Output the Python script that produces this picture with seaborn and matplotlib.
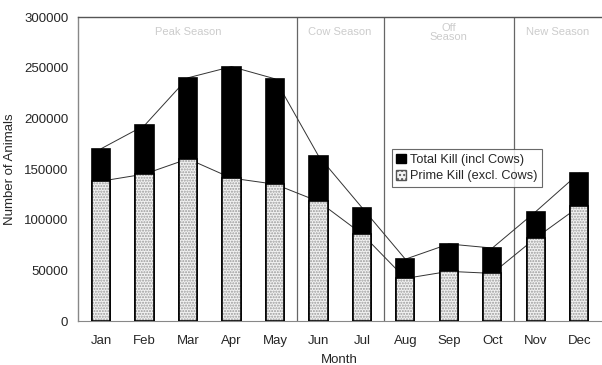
import matplotlib
matplotlib.use("Agg")
import matplotlib.pyplot as plt
import numpy as np
import pandas as pd
import seaborn as sns
from matplotlib.patches import Patch

months = ["Jan", "Feb", "Mar", "Apr", "May", "Jun", "Jul", "Aug", "Sep", "Oct", "Nov", "Dec"]
total_kill = [170000, 193000, 240000, 251000, 239000, 163000, 112000, 61000, 76000, 72000, 108000, 146000]
prime_kill = [138000, 145000, 160000, 141000, 135000, 118000, 86000, 42000, 49000, 47000, 82000, 113000]
season_labels = ["Peak Season", "Cow Season", "Off\nSeason", "New Season"]
season_edges = [-0.5, 4.5, 6.5, 9.5, 11.5]

df = pd.DataFrame({"Month": months, "Total": total_kill, "Prime": prime_kill})

sns.set_style("white")
plt.rcParams["font.family"] = ["Liberation Sans", "DejaVu Sans"]

fig = plt.figure(figsize=(6.02, 3.65), dpi=100)
ax = fig.add_axes([78 / 602, 1 - 321 / 365, 523 / 602, 304 / 365])

bar_w = 0.42
# total kill in black, prime kill drawn over it from zero
sns.barplot(data=df, x="Month", y="Total", color="black", width=bar_w,
            saturation=1, edgecolor="black", linewidth=1.2, ax=ax, zorder=3)
n_total = len(ax.patches)
sns.barplot(data=df, x="Month", y="Prime", color="#f2f2f2", width=bar_w,
            saturation=1, edgecolor="#9a9a9a", linewidth=0, ax=ax, zorder=4)
for p in ax.patches[n_total:]:
    p.set_hatch("......")
sns.barplot(data=df, x="Month", y="Prime", fill=False, width=bar_w,
            edgecolor="black", linewidth=1.2, ax=ax, zorder=5)

# trend lines joining the bar tops
x = np.arange(len(months))
ax.plot(x, total_kill, color="#333333", lw=0.7, zorder=2)
ax.plot(x, prime_kill, color="#333333", lw=0.7, zorder=2)

# season dividers and labels
for e in season_edges[1:-1]:
    ax.axvline(e, color="#666666", lw=0.9, zorder=1)
for i, lab in enumerate(season_labels):
    mid = (season_edges[i] + season_edges[i + 1]) / 2
    ax.text(mid, 285000, lab, ha="center", va="center", fontsize=8,
            color="#cccccc", linespacing=0.9, zorder=1)

ax.set_xlim(-0.53, 11.5)
ax.set_ylim(0, 300000)
ax.set_yticks(np.arange(0, 300001, 50000))
ax.tick_params(axis="y", labelsize=9.5, length=3, width=0.8, color="#555555", pad=4, direction="out")
ax.tick_params(axis="x", labelsize=9.5, length=0, pad=10)
ax.set_xticks(season_edges[:1] + [i + 0.5 for i in range(11)], minor=True)
ax.tick_params(axis="x", which="minor", length=3, color="#777777", direction="out")

ax.set_xlabel("Month", fontsize=9.5, labelpad=5)
ax.set_ylabel("Number of Animals", fontsize=9.5, labelpad=6)

ax.spines["right"].set_visible(False)
ax.spines["top"].set_color("#555555")
ax.spines["top"].set_linewidth(1.0)
ax.spines["left"].set_color("#888888")
ax.spines["left"].set_linewidth(1.0)
ax.spines["bottom"].set_color("#888888")
ax.spines["bottom"].set_linewidth(0.8)

handles = [Patch(facecolor="black", edgecolor="black", label="Total Kill (incl Cows)"),
           Patch(facecolor="#f2f2f2", edgecolor="#555555", hatch="....", label="Prime Kill (excl. Cows)")]
leg = ax.legend(handles=handles, loc="upper left", bbox_to_anchor=(0.60, 0.565),
                fontsize=9.2, frameon=True, fancybox=False, handlelength=0.8,
                handleheight=0.8, handletextpad=0.3, borderpad=0.35, labelspacing=0.3,
                borderaxespad=0)
leg.get_frame().set_edgecolor("#444444")
leg.get_frame().set_linewidth(0.8)
leg.set_zorder(6)

fig.savefig("out.png", dpi=100)
